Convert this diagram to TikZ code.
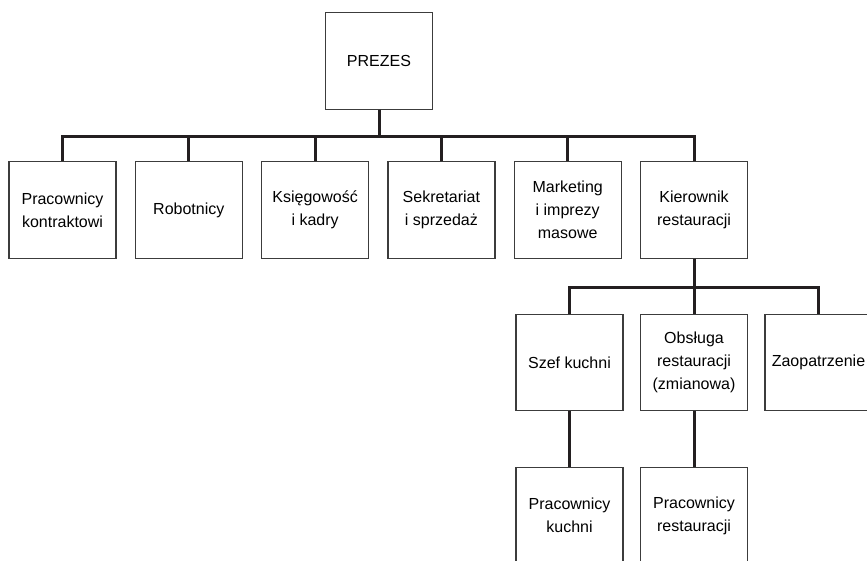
\documentclass[tikz,border=0pt]{standalone}
\usepackage{fontspec}
\setmainfont{Liberation Sans}
\definecolor{linegray}{RGB}{35,31,32}
\definecolor{boxgray}{RGB}{60,60,60}
\begin{document}
\begin{tikzpicture}[x=0.5pt,y=0.5pt,yscale=-1,xscale=1,
    unit/.style={draw=boxgray,line width=0.65pt,minimum width=53.5pt,minimum height=48.25pt,
      inner sep=0pt,align=center,font=\fontsize{8}{11.5}\selectfont,text=black},
    conn/.style={draw=linegray,line width=1.5pt}]
        \useasboundingbox (0,0) rectangle (867,561);
        \clip (0,0) rectangle (867,561);

        % Text Node
        \node [unit] (prezes) at (379,61) {PREZES};
        % Text Node
        \node [unit] (kontrakt) at (62.5,210) {Pracownicy\\kontraktowi};
        \node [unit] (robot) at (188.8,210) {Robotnicy};
        \node [unit] (ksieg) at (315.1,210) {Księgowość\\i kadry};
        \node [unit] (sekret) at (441.4,210) {Sekretariat\\i sprzedaż};
        \node [unit] (market) at (567.7,210) {Marketing\\i imprezy\\masowe};
        \node [unit] (kierown) at (694,210) {Kierownik\\restauracji};
        % Text Node
        \node [unit] (szef) at (569.5,362.5) {Szef kuchni};
        \node [unit] (obsluga) at (694,362.5) {Obsługa\\restauracji\\(zmianowa)};
        \node [unit] (zaopat) at (818.5,362.5) {Zaopatrzenie};
        % Text Node
        \node [unit] (kuchnia) at (569.5,515.5) {Pracownicy\\kuchni};
        \node [unit] (sala) at (694,515.5) {Pracownicy\\restauracji};

        % Connection
        \foreach \dzial in {kontrakt,robot,ksieg,sekret,market,kierown}
          \draw [conn] (prezes.south) -- ++(0,27) -| (\dzial.north);

        % Connection
        \foreach \dzial in {szef,obsluga,zaopat}
          \draw [conn] (kierown.south) -- ++(0,29) -| (\dzial.north);

        % Connection
        \draw [conn] (szef.south) -- (kuchnia.north);
        \draw [conn] (obsluga.south) -- (sala.north);

\end{tikzpicture}
\end{document}
